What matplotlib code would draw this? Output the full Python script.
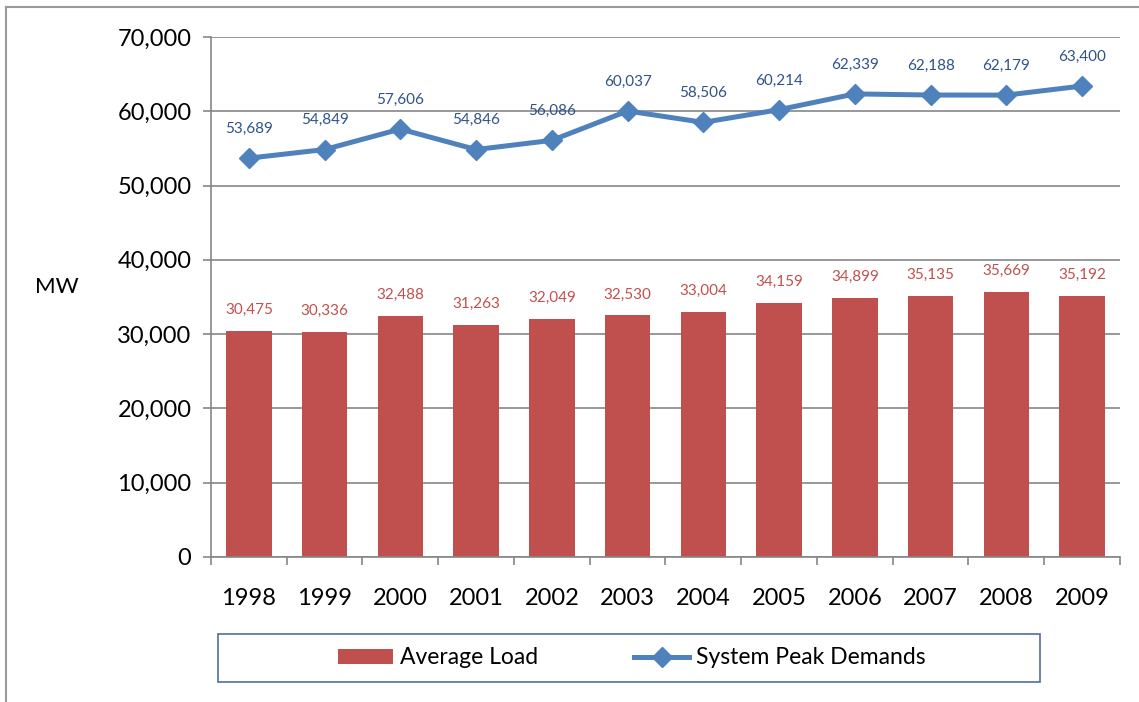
import numpy as np
import matplotlib
matplotlib.use("Agg")
import matplotlib.pyplot as plt
from matplotlib.ticker import FuncFormatter, FixedLocator
from matplotlib.patches import Rectangle

years = ["1998", "1999", "2000", "2001", "2002", "2003",
         "2004", "2005", "2006", "2007", "2008", "2009"]
average_load = [30475, 30336, 32488, 31263, 32049, 32530,
                33004, 34159, 34899, 35135, 35669, 35192]
peak_demand = [53689, 54849, 57606, 54846, 56086, 60037,
               58506, 60214, 62339, 62188, 62179, 63400]

red = "#C0504D"
blue = "#4F81BD"
plt.rcParams["font.family"] = ["Lato", "DejaVu Sans"]

fig = plt.figure(figsize=(11.39, 7.02), dpi=100)
ax = fig.add_axes([0.1852, 0.2066, 0.7981, 0.7407])

x = np.arange(len(years))
bars = ax.bar(x, average_load, width=0.6, color=red, zorder=2, label="Average Load")
line, = ax.plot(x, peak_demand, color=blue, lw=3.6, marker="D", ms=10,
                zorder=3, label="System Peak Demands")

for xi, v in zip(x, average_load):
    ax.annotate(f"{v:,}", (xi, v), xytext=(0, 10), textcoords="offset points",
                ha="center", va="bottom", color=red, fontsize=11)
for xi, v in zip(x, peak_demand):
    ax.annotate(f"{v:,}", (xi, v), xytext=(0, 16), textcoords="offset points",
                ha="center", va="bottom", color="#2F5289", fontsize=11)

ax.set_xlim(-0.5, len(years) - 0.5)
ax.set_ylim(0, 70000)
ax.set_yticks(np.arange(0, 70001, 10000))
ax.yaxis.set_major_formatter(FuncFormatter(lambda v, p: f"{int(v):,}"))
ax.yaxis.grid(True, color="#868686", lw=1.2, zorder=0)
ax.set_axisbelow(True)

ax.set_xticks(x)
ax.set_xticklabels(years)
ax.xaxis.set_minor_locator(FixedLocator(np.arange(-0.5, len(years), 1)))
ax.tick_params(axis="x", which="major", length=0, pad=22, labelsize=17)
ax.tick_params(axis="x", which="minor", length=6, color="#868686", width=1.2)
ax.tick_params(axis="y", length=6, color="#868686", width=1.2, labelsize=17, pad=8)

for s in ["top", "right"]:
    ax.spines[s].set_visible(False)
for s in ["left", "bottom"]:
    ax.spines[s].set_color("#868686")
    ax.spines[s].set_linewidth(1.2)

fig.text(35 / 1139, 1 - 287 / 702, "MW", fontsize=16, ha="left", va="center")

# outer frame (top and left edges visible)
fig.add_artist(plt.Line2D([6 / 1139, 1], [1 - 7 / 702] * 2, color="#9A9A9A", lw=1.5))
fig.add_artist(plt.Line2D([6 / 1139] * 2, [0, 1 - 7 / 702], color="#9A9A9A", lw=1.5))

# legend box
fig.add_artist(Rectangle((218 / 1139, 1 - 682 / 702), 822 / 1139, 48 / 702,
                         transform=fig.transFigure, fill=False,
                         edgecolor="#4F6F9A", lw=1.2))
leg = fig.legend(handles=[bars, line], loc="center",
                 bbox_to_anchor=(632 / 1139, 1 - 658 / 702),
                 ncol=2, frameon=False, fontsize=16.5, handlelength=2.4,
                 handleheight=0.6, handletextpad=0.3, columnspacing=4.2)

fig.savefig("out.png", dpi=100)
